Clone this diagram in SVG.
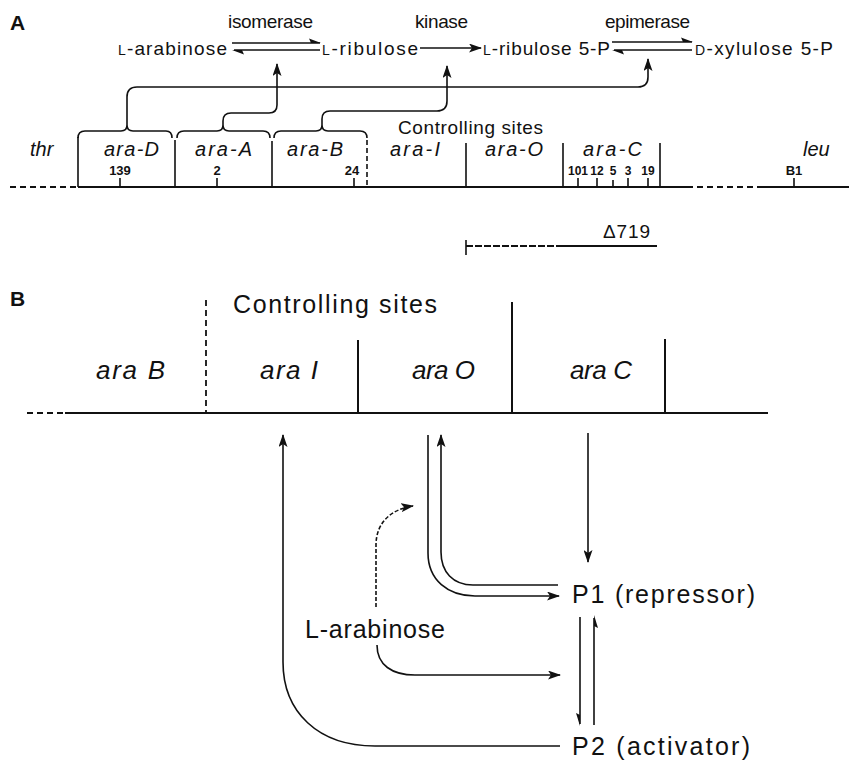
<svg xmlns="http://www.w3.org/2000/svg" width="849" height="761" viewBox="0 0 849 761">
<style>
text{font-family:"Liberation Sans","DejaVu Sans",Arial,sans-serif;fill:#111}
.lab{font-weight:bold;font-size:21px}
.rx{font-size:19px}
.gi{font-size:20px;font-style:italic}
.tk{font-size:13px;font-weight:bold}
.tc{font-size:12px;font-weight:bold;font-family:"Liberation Sans Narrow","Liberation Sans",Arial,sans-serif}
.bi{font-size:26px;font-style:italic}
.bt{font-size:25px}
.ln{fill:none;stroke:#111;stroke-width:1.6}
.th{fill:none;stroke:#111;stroke-width:2}
.ds{fill:none;stroke:#111;stroke-width:1.8;stroke-dasharray:6,4}
.hd{fill:#111;stroke:none}
</style>
<defs>
<marker id="ah" viewBox="0 0 13 9" refX="12" refY="4.5" markerWidth="13" markerHeight="9" markerUnits="userSpaceOnUse" orient="auto">
<path d="M0,0 L13,4.5 L0,9 L3,4.5 z" fill="#111"/>
</marker>
</defs>

<g id="panelA-label"><text class="lab" x="10" y="30">A</text></g>

<g id="reactions">
<text class="rx" x="228" y="28" textLength="85">isomerase</text>
<text class="rx" x="415" y="28" textLength="53">kinase</text>
<text class="rx" x="605" y="28" textLength="85">epimerase</text>
<g id="n-larabinose"><text class="rx" x="118" y="55" textLength="109"><tspan font-size="14">L</tspan>-arabinose</text></g>
<g id="n-lribulose"><text class="rx" x="322" y="55" textLength="96"><tspan font-size="14">L</tspan>-ribulose</text></g>
<g id="n-lribulose5p"><text class="rx" x="483" y="55" textLength="127"><tspan font-size="14">L</tspan>-ribulose 5-P</text></g>
<g id="n-dxylulose5p"><text class="rx" x="695" y="55" textLength="138"><tspan font-size="14">D</tspan>-xylulose  5-P</text></g>
</g>

<g id="reaction-arrows">
<path class="ln" d="M232,43 L320,43"/>
<path class="hd" d="M321,43 L309,38.5 L311,43 z"/>
<path class="ln" d="M234,50 L320,50"/>
<path class="hd" d="M232,50 L244,54.5 L242,50 z"/>
<path class="ln" d="M420,48 L481,48" marker-end="url(#ah)"/>
<path class="ln" d="M612,42 L692,42"/>
<path class="hd" d="M693,42 L681,37.5 L683,42 z"/>
<path class="ln" d="M614,50 L692,50"/>
<path class="hd" d="M612,50 L624,54.5 L622,50 z"/>
</g>

<g id="gene-map-A">
<path class="ds" d="M10,187 L78,187"/>
<path class="th" d="M78,187 L687,187"/>
<path class="ds" d="M687,187 L757,187"/>
<path class="th" d="M757,187 L849,187"/>
<path class="ln" d="M78,137 L78,187 M175,140 L175,187 M272,141 L272,187 M466,143 L466,187 M563,143 L563,187 M660,143 L660,187"/>
<path class="ln" stroke-dasharray="5,3" d="M367,140 L367,187"/>
<path class="ln" d="M120,178 L120,187 M217,178 L217,187 M354,178 L354,187 M578,178 L578,187 M597,178 L597,187 M613,180 L613,187 M628,178 L628,187 M648,178 L648,187 M794,178 L794,187"/>
<path class="ln" d="M78,138 Q78,131 85,131 L121,131 Q127,131 127,125 Q127,131 133,131 L166,131 Q172,131 172,138"/>
<path class="ln" d="M177,138 Q177,131 184,131 L217,131 Q223,131 223,125 Q223,131 229,131 L263,131 Q270,131 270,138"/>
<path class="ln" d="M274,138 Q274,131 281,131 L316,131 Q322,131 322,125 Q322,131 328,131 L360,131 Q367,131 367,138"/>
<text class="gi" x="30" y="156">thr</text>
<text class="gi" x="104" y="156" textLength="55">ara-D</text>
<text class="gi" x="195" y="156" textLength="57">ara-A</text>
<text class="gi" x="287" y="156" textLength="56">ara-B</text>
<text class="gi" x="390" y="156" textLength="50">ara-I</text>
<text class="gi" x="485" y="156" textLength="58">ara-O</text>
<text class="gi" x="583" y="156" textLength="59">ara-C</text>
<text class="gi" x="803" y="156">leu</text>
<text class="rx" x="398" y="134" textLength="145">Controlling sites</text>
<text class="tk" x="120" y="175" text-anchor="middle">139</text>
<text class="tk" x="217" y="175" text-anchor="middle">2</text>
<text class="tk" x="352" y="175" text-anchor="middle">24</text>
<text class="tc" x="578" y="175" text-anchor="middle">101</text>
<text class="tc" x="597" y="175" text-anchor="middle">12</text>
<text class="tc" x="613" y="175" text-anchor="middle">5</text>
<text class="tc" x="628" y="175" text-anchor="middle">3</text>
<text class="tc" x="648" y="175" text-anchor="middle">19</text>
<text class="tk" x="794" y="175" text-anchor="middle">B1</text>
</g>

<g id="connectors-A">
<path class="ln" d="M127,125 L127,97 Q127,87 137,87 L638,87 Q648,87 648,77 L648,59" marker-end="url(#ah)"/>
<path class="ln" d="M223,125 L223,121 Q223,113 231,113 L269,113 Q277,113 277,105 L277,64" marker-end="url(#ah)"/>
<path class="ln" d="M322,125 L322,119 Q322,111 330,111 L437,111 Q447,111 447,101 L447,66" marker-end="url(#ah)"/>
</g>

<g id="deletion-719">
<path class="ln" d="M466,240 L466,255"/>
<path class="th" stroke-dasharray="7,2" d="M466,246 L560,246"/>
<path class="th" d="M560,246 L657,246"/>
<text class="rx" x="603" y="238" textLength="47" font-size="20">Δ719</text>
</g>

<g id="panelB-label"><text class="lab" x="10" y="306">B</text></g>

<g id="gene-map-B">
<path class="ds" d="M27,413 L65,413"/>
<path class="th" d="M65,413 L768,413"/>
<path class="ds" stroke-dasharray="7,4" d="M206,300 L206,413"/>
<path class="th" d="M358,340 L358,413 M512,302 L512,413 M665,339 L665,413"/>
<text class="bt" x="233" y="313" textLength="204" font-size="27">Controlling sites</text>
<text class="bi" x="96" y="379" textLength="69">ara B</text>
<text class="bi" x="260" y="379" textLength="58">ara I</text>
<text class="bi" x="412" y="379" textLength="63">ara O</text>
<text class="bi" x="570" y="379" textLength="62">ara C</text>
</g>

<g id="n-P1"><text class="bt" x="572" y="603" textLength="183">P1 (repressor)</text></g>
<g id="n-P2"><text class="bt" x="572" y="755" textLength="178">P2 (activator)</text></g>
<g id="n-arabinose-B"><text class="bt" x="305" y="638" textLength="140" font-size="23">L-arabinose</text></g>

<g id="connectors-B">
<path class="ln" d="M560,746 L375,746 C318,746 283,712 283,662 L283,435" marker-end="url(#ah)"/>
<path class="ln" d="M428,435 L428,553 C428,580 448,596 475,596 L559,596" marker-end="url(#ah)"/>
<path class="ln" d="M558,585 L473,585 C453,585 441,572 441,552 L441,435" marker-end="url(#ah)"/>
<path class="ln" stroke-dasharray="4,2" d="M376,607 L376,545 C376,522 392,509 413,506" marker-end="url(#ah)"/>
<path class="ln" d="M377,645 C377,665 392,675 415,675 L560,675" marker-end="url(#ah)"/>
<path class="ln" d="M588,433 L588,562" marker-end="url(#ah)"/>
<path class="ln" d="M580,617 L580,724"/>
<path class="hd" d="M580,726 L576,713 L580,715 z"/>
<path class="ln" d="M594,725 L594,618"/>
<path class="hd" d="M594,615 L598,628 L594,626 z"/>
</g>
</svg>
